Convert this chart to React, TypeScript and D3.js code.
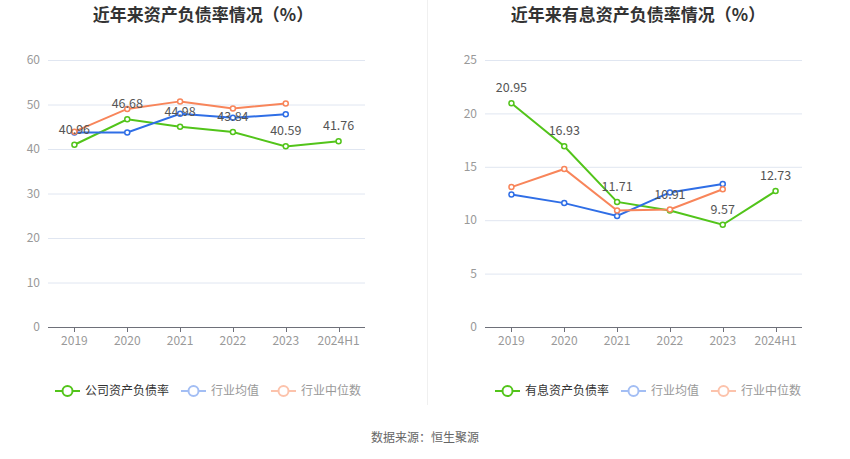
import * as d3 from "d3";
import { useEffect, useRef } from "react";

const YEARS = ["2019", "2020", "2021", "2022", "2023", "2024H1"];
const PEER_YEARS = ["2019", "2020", "2021", "2022", "2023"];

const ASSET_COMPANY = [40.96, 46.68, 44.98, 43.84, 40.59, 41.76];
const ASSET_MEAN = [43.7, 43.7, 47.9, 47.0, 47.8];
const ASSET_MEDIAN = [43.9, 49.0, 50.7, 49.1, 50.2];

const INTEREST_COMPANY = [20.95, 16.93, 11.71, 10.91, 9.57, 12.73];
const INTEREST_MEAN = [12.4, 11.6, 10.4, 12.6, 13.4];
const INTEREST_MEDIAN = [13.1, 14.8, 10.9, 11.0, 12.9];

const ASSET_TICKS = [0, 10, 20, 30, 40, 50, 60];
const INTEREST_TICKS = [0, 5, 10, 15, 20, 25];

const FONT = "'Noto Sans CJK SC', 'Noto Sans', sans-serif";
const GREEN = "#52c41a";
const BLUE = "#2f6ee6";
const ORANGE = "#f8855a";
const BLUE_FADED = "#a3bef4";
const ORANGE_FADED = "#fcc3ac";

type Panel = {
  title: string;
  titleX: number;
  x0: number;
  x1: number;
  max: number;
  ticks: number[];
  company: number[];
  mean: number[];
  median: number[];
  legendName: string;
  legendX: number;
};

const PANELS: Panel[] = [
  {
    title: "近年来资产负债率情况（%）",
    titleX: 203,
    x0: 48,
    x1: 365,
    max: 60,
    ticks: ASSET_TICKS,
    company: ASSET_COMPANY,
    mean: ASSET_MEAN,
    median: ASSET_MEDIAN,
    legendName: "公司资产负债率",
    legendX: 55,
  },
  {
    title: "近年来有息资产负债率情况（%）",
    titleX: 638,
    x0: 485,
    x1: 802,
    max: 25,
    ticks: INTEREST_TICKS,
    company: INTEREST_COMPANY,
    mean: INTEREST_MEAN,
    median: INTEREST_MEDIAN,
    legendName: "有息资产负债率",
    legendX: 495,
  },
];

const TOP = 60;
const BOTTOM = 327;

export default function App() {
  const ref = useRef<SVGSVGElement>(null);

  useEffect(() => {
    const svg = d3.select(ref.current);
    svg.selectAll("*").remove();

    svg.append("rect").attr("width", 850).attr("height", 459).attr("fill", "#fff");

    // divider between the two charts
    svg
      .append("line")
      .attr("x1", 427.5)
      .attr("x2", 427.5)
      .attr("y1", 0)
      .attr("y2", 405)
      .attr("stroke", "#f0f0f0");

    for (const p of PANELS) {
      const g = svg.append("g");
      const x = d3.scaleBand<string>().domain(YEARS).range([p.x0, p.x1]);
      const y = d3.scaleLinear().domain([0, p.max]).range([BOTTOM, TOP]);
      const cx = (d: string) => (x(d) ?? 0) + x.bandwidth() / 2;

      g.append("text")
        .attr("x", p.titleX)
        .attr("y", 21)
        .attr("text-anchor", "middle")
        .attr("font-size", 17)
        .attr("font-weight", "bold")
        .attr("fill", "#333")
        .text(p.title);

      // grid + y labels
      g.selectAll(".grid")
        .data(p.ticks.filter((t) => t > 0))
        .join("line")
        .attr("x1", p.x0)
        .attr("x2", p.x1)
        .attr("y1", (d) => y(d) + 0.5)
        .attr("y2", (d) => y(d) + 0.5)
        .attr("stroke", "#e0e6f1");

      g.selectAll(".ylab")
        .data(p.ticks)
        .join("text")
        .attr("x", p.x0 - 8)
        .attr("y", (d) => y(d))
        .attr("dy", "0.35em")
        .attr("text-anchor", "end")
        .attr("font-size", 12)
        .attr("fill", "#999")
        .text((d) => d);

      // x axis
      g.append("line")
        .attr("x1", p.x0)
        .attr("x2", p.x1)
        .attr("y1", BOTTOM + 0.5)
        .attr("y2", BOTTOM + 0.5)
        .attr("stroke", "#6e7079");

      g.selectAll(".xtick")
        .data(YEARS)
        .join("line")
        .attr("x1", (d) => Math.round(cx(d)) + 0.5)
        .attr("x2", (d) => Math.round(cx(d)) + 0.5)
        .attr("y1", BOTTOM)
        .attr("y2", BOTTOM + 5)
        .attr("stroke", "#6e7079");

      g.selectAll(".xlab")
        .data(YEARS)
        .join("text")
        .attr("x", cx)
        .attr("y", BOTTOM + 18)
        .attr("text-anchor", "middle")
        .attr("font-size", 12)
        .attr("fill", "#999")
        .text((d) => d);

      const series: [string[], number[], string][] = [
        [YEARS, p.company, GREEN],
        [PEER_YEARS, p.mean, BLUE],
        [PEER_YEARS, p.median, ORANGE],
      ];

      for (const [cats, vals, color] of series) {
        const pts = cats.map((c, i) => [cx(c), y(vals[i])] as [number, number]);
        const line = d3.line<[number, number]>();
        g.append("path")
          .attr("d", line(pts) ?? "")
          .attr("fill", "none")
          .attr("stroke", color)
          .attr("stroke-width", 2);
        g.selectAll(null)
          .data(pts)
          .join("circle")
          .attr("cx", (d) => d[0])
          .attr("cy", (d) => d[1])
          .attr("r", 2.5)
          .attr("fill", "#fff")
          .attr("stroke", color)
          .attr("stroke-width", 1.5);
      }

      g.selectAll(".lab")
        .data(p.company)
        .join("text")
        .attr("x", (_, i) => cx(YEARS[i]))
        .attr("y", (d) => y(d) - 11)
        .attr("text-anchor", "middle")
        .attr("font-size", 12.5)
        .attr("fill", "#555")
        .text((d) => d.toFixed(2));

      // legend
      const items: [string, string, string][] = [
        [p.legendName, GREEN, "#333"],
        ["行业均值", BLUE_FADED, "#999"],
        ["行业中位数", ORANGE_FADED, "#999"],
      ];
      let lx = p.legendX;
      const ly = 391;
      for (const [name, color, textColor] of items) {
        g.append("line")
          .attr("x1", lx)
          .attr("x2", lx + 25)
          .attr("y1", ly)
          .attr("y2", ly)
          .attr("stroke", color)
          .attr("stroke-width", 2);
        g.append("circle")
          .attr("cx", lx + 12.5)
          .attr("cy", ly)
          .attr("r", 5)
          .attr("fill", "#fff")
          .attr("stroke", color)
          .attr("stroke-width", 2);
        g.append("text")
          .attr("x", lx + 30)
          .attr("y", ly)
          .attr("dy", "0.35em")
          .attr("font-size", 12)
          .attr("fill", textColor)
          .text(name);
        lx += 30 + name.length * 12 + 12;
      }
    }

    svg
      .append("text")
      .attr("x", 425)
      .attr("y", 438)
      .attr("dy", "0.35em")
      .attr("text-anchor", "middle")
      .attr("font-size", 12)
      .attr("fill", "#666")
      .text("数据来源：恒生聚源");
  }, []);

  return (
    <svg
      ref={ref}
      width={850}
      height={459}
      style={{ position: "absolute", left: 0, top: 0, fontFamily: FONT }}
    />
  );
}
